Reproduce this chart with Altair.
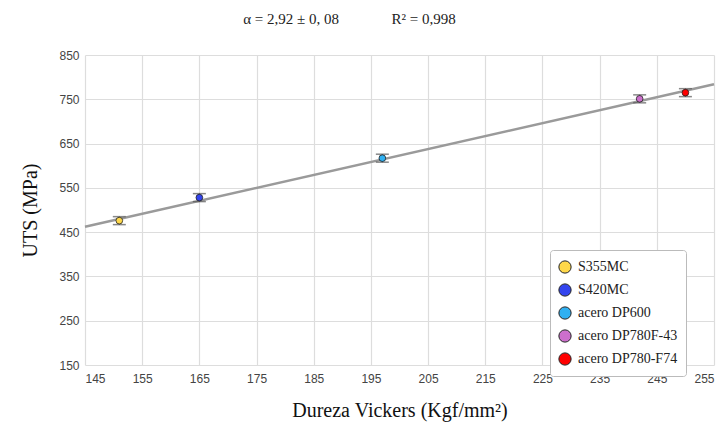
import altair as alt
import pandas as pd

materials = ["S355MC", "S420MC", "acero DP600", "acero DP780F-43", "acero DP780-F74"]
hv = [151, 165, 197, 242, 250]
uts = [476, 528, 617, 751, 765]
err = [9, 9, 9, 9, 9]
colors = ["#FFD84A", "#3344EE", "#2FB0F2", "#CC6FCC", "#FF0000"]

fit_x = [145, 255]
fit_y = [462, 784]

x_ticks = list(range(145, 256, 10))
y_ticks = list(range(150, 851, 100))

NB = "\u00a0"
title_text = "α = 2,92 ± 0, 08" + NB * 14 + "R² = 0,998"

df = pd.DataFrame({"material": materials, "hv": hv, "uts": uts, "err": err})
df["lo"] = df["uts"] - df["err"]
df["hi"] = df["uts"] + df["err"]
fit = pd.DataFrame({"hv": fit_x, "uts": fit_y})

xscale = alt.Scale(domain=[145, 255], nice=False, zero=False)
yscale = alt.Scale(domain=[150, 850], nice=False, zero=False)

xaxis = alt.Axis(values=x_ticks, title="Dureza Vickers (Kgf/mm²)", grid=True,
                 ticks=False, domain=False, labelPadding=8, titlePadding=16)
yaxis = alt.Axis(values=y_ticks, title="UTS (MPa)", grid=True,
                 ticks=False, domain=False, labelPadding=6, titlePadding=18)

line = alt.Chart(fit).mark_line(color="#9A9A9A", strokeWidth=2.5).encode(
    x=alt.X("hv:Q", scale=xscale, axis=xaxis),
    y=alt.Y("uts:Q", scale=yscale, axis=yaxis),
)

rule = alt.Chart(df).mark_rule(color="#555555", strokeWidth=1.2).encode(
    x="hv:Q", y="lo:Q", y2="hi:Q"
)
cap_lo = alt.Chart(df).mark_tick(color="#555555", orient="horizontal", size=13, thickness=1.5).encode(
    x="hv:Q", y="lo:Q"
)
cap_hi = alt.Chart(df).mark_tick(color="#555555", orient="horizontal", size=13, thickness=1.5).encode(
    x="hv:Q", y="hi:Q"
)

points = alt.Chart(df).mark_point(shape="circle", filled=True, size=45, stroke="#222222",
                                  strokeWidth=0.8, opacity=1).encode(
    x="hv:Q",
    y="uts:Q",
    fill=alt.Fill("material:N", scale=alt.Scale(domain=materials, range=colors),
                  legend=alt.Legend(title=NB * 300, titleFontSize=2, titlePadding=0,
                                    titleLimit=400,
                                    orient="none", legendX=465, legendY=195,
                                    padding=8, rowPadding=5, symbolSize=150,
                                    symbolStrokeColor="#222222", symbolStrokeWidth=1,
                                    symbolType="circle", labelFont="Liberation Serif",
                                    labelFontSize=14, labelColor="#222222",
                                    labelOffset=6, fillColor="white",
                                    strokeColor="#BBBBBB", cornerRadius=3)),
)

chart = alt.layer(line, rule, cap_lo, cap_hi, points).properties(
    width=629, height=310,
    title=alt.TitleParams(title_text, font="Liberation Serif",
                          fontSize=15, fontWeight="normal", color="#222222",
                          anchor="middle", dx=-50, offset=22),
    autosize=alt.AutoSizeParams(type="none"),
    padding={"left": 85, "top": 55, "right": 13, "bottom": 60},
).configure_view(stroke=None).configure_axis(
    gridColor="#DDDDDD", gridWidth=1.2,
    labelFont="Liberation Sans", labelFontSize=12, labelColor="#444444",
    titleFont="Liberation Serif", titleFontSize=20, titleFontWeight="normal",
    titleColor="#111111",
)

chart.save("out.html", embed_options={"renderer": "svg", "actions": False})
